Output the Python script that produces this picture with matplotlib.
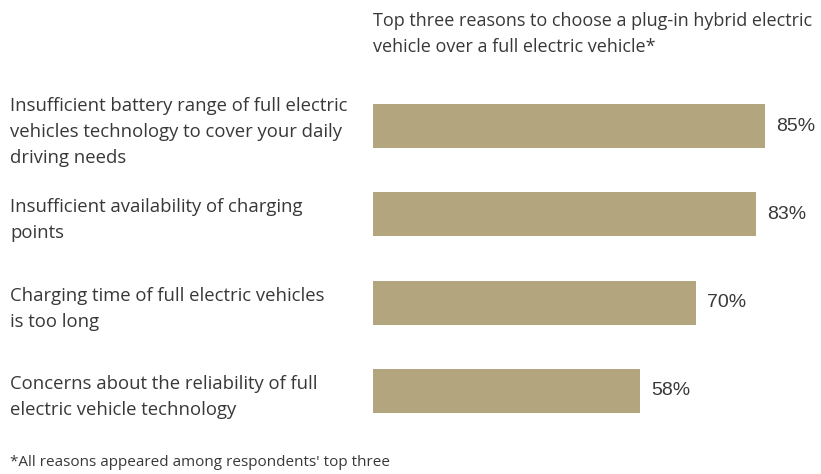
import matplotlib.pyplot as plt

reasons = [
    "Insufficient battery range of full electric\nvehicles technology to cover your daily\ndriving needs",
    "Insufficient availability of charging\npoints",
    "Charging time of full electric vehicles\nis too long",
    "Concerns about the reliability of full\nelectric vehicle technology",
]
shares = [85, 83, 70, 58]

title = "Top three reasons to choose a plug-in hybrid electric\nvehicle over a full electric vehicle*"
note = "*All reasons appeared among respondents' top three"

bar_color = "#b3a57e"
text_color = "#383838"
W, H = 821, 474

fig = plt.figure(figsize=(W / 100, H / 100), dpi=100)
ax = fig.add_axes([373 / W, 1 - 435 / H, (W - 373) / W, 353 / H])

ypos = list(range(len(shares)))
ax.barh(ypos, shares, height=0.5, color=bar_color)
xmax = 85 * (W - 373) / (765 - 373)
ax.set_xlim(0, xmax)
ax.set_ylim(len(shares) - 0.5, -0.5)
ax.axis("off")

px = xmax / (W - 373)
for y, v in zip(ypos, shares):
    ax.text(v + 11 * px, y, f"{v}%", va="center", ha="left", fontsize=14,
            family="Liberation Sans", color=text_color)

label_font = "Open Sans"
for y, lab in zip(ypos, reasons):
    _, fy = ax.transData.transform((0, y))
    fig.text(10 / W, (fy - 6) / H, lab, ha="left", va="center", fontsize=13.3,
             family=label_font, color=text_color, linespacing=1.58)

fig.text(373 / W, 1 - 12 / H, title, ha="left", va="top", fontsize=12.95,
         family=label_font, color=text_color, linespacing=1.55)
fig.text(10 / W, 1 - 463 / H, note, ha="left", va="center", fontsize=11,
         family=label_font, color=text_color)

fig.savefig("out.png", dpi=100)
